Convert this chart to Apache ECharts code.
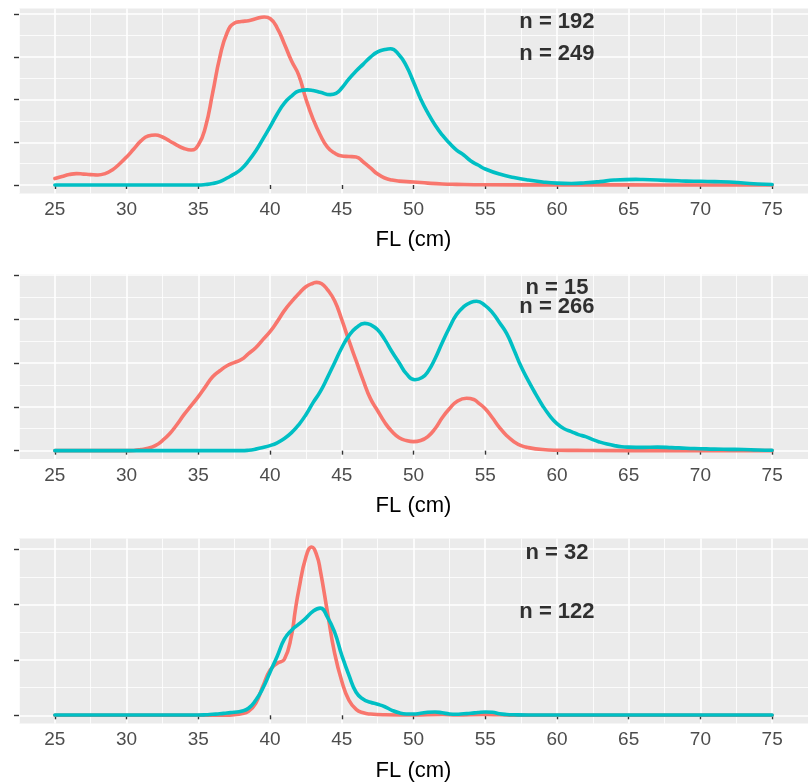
<!DOCTYPE html>
<html>
<head>
<meta charset="utf-8">
<title>FL density</title>
<script src="https://cdn.jsdelivr.net/npm/echarts@6/dist/echarts.min.js"></script>
<style>
  html, body { margin: 0; padding: 0; background: #ffffff; }
  #chart { width: 808px; height: 783px; }
</style>
</head>
<body>
<div id="chart"></div>
<script>
// Fork length (cm) breaks shared by all panels
const flBreaks = [25, 30, 35, 40, 45, 50, 55, 60, 65, 70, 75];
const flMinor = [22.5, 27.5, 32.5, 37.5, 42.5, 47.5, 52.5, 57.5, 62.5, 67.5, 72.5, 77.5];
const flLimits = [22.5, 77.5];

// Panel 1 density estimates [FL, density]
const panel1Red = [
  [25, 0.0038], [25.5, 0.0050], [26, 0.0061], [26.5, 0.0067], [27, 0.0064], [27.5, 0.0061],
  [28, 0.0059], [28.5, 0.0067], [29, 0.0088], [29.5, 0.0123], [30, 0.0164], [30.5, 0.0211],
  [31, 0.0258], [31.5, 0.0287], [32, 0.0293], [32.5, 0.0281], [33, 0.0258], [33.5, 0.0234],
  [34, 0.0214], [34.5, 0.0205], [35, 0.0234], [35.5, 0.0340], [36, 0.0539], [36.5, 0.0749],
  [37, 0.0890], [37.5, 0.0947], [38, 0.0957], [38.5, 0.0962], [39, 0.0973], [39.6, 0.0984],
  [40, 0.0975], [40.5, 0.0919], [41, 0.0826], [41.5, 0.0726], [42, 0.0644], [42.5, 0.0504],
  [43, 0.0386], [43.5, 0.0293], [44, 0.0222], [44.5, 0.0187], [45, 0.0170], [45.5, 0.0167],
  [46, 0.0164], [46.5, 0.0135], [47, 0.0100], [47.5, 0.0064], [48, 0.0041], [48.5, 0.0029],
  [49, 0.0023], [50, 0.0018], [51, 0.0011], [52, 0.0006], [53, 0.0004], [55, 0.0002],
  [60, 0.0001], [65, 0.0001], [70, 0.0000], [75, 0.0000]
];
const panel1Teal = [
  [25, 0], [30, 0], [34, 0], [35, 0.0000], [35.5, 0.0003], [36, 0.0009], [36.5, 0.0020],
  [37, 0.0041], [37.5, 0.0064], [38, 0.0094], [38.5, 0.0141], [39, 0.0199], [39.5, 0.0269],
  [40, 0.0340], [40.5, 0.0416], [41, 0.0480], [41.5, 0.0521], [42, 0.0550], [42.6, 0.0557],
  [43, 0.0553], [43.5, 0.0543], [44.2, 0.0529], [44.6, 0.0536], [45, 0.0568], [45.5, 0.0621],
  [46, 0.0667], [46.5, 0.0708], [47, 0.0749], [47.5, 0.0779], [48, 0.0793], [48.4, 0.0798],
  [49, 0.0761], [49.5, 0.0697], [50, 0.0603], [50.5, 0.0504], [51, 0.0422], [51.5, 0.0351],
  [52, 0.0293], [52.5, 0.0246], [53, 0.0205], [53.5, 0.0176], [54, 0.0141], [54.5, 0.0117],
  [55, 0.0094], [56, 0.0064], [57, 0.0044], [58, 0.0029], [59, 0.0018], [60, 0.0011],
  [61, 0.0009], [62, 0.0013], [63, 0.0020], [64, 0.0029], [65.5, 0.0033], [66, 0.0032],
  [67, 0.0029], [68, 0.0026], [69, 0.0023], [70, 0.0022], [71, 0.0020], [72, 0.0018],
  [73, 0.0012], [74, 0.0006], [75, 0.0003]
];

// Panel 2 density estimates
const panel2Red = [
  [25, 0], [30, 0], [30.5, 0.0001], [31, 0.0005], [31.5, 0.0011], [32, 0.0023], [32.5, 0.0046],
  [33, 0.0077], [33.5, 0.0118], [34, 0.0164], [34.5, 0.0205], [35, 0.0246], [35.5, 0.0292],
  [36, 0.0337], [36.5, 0.0364], [37, 0.0387], [37.5, 0.0401], [38, 0.0415], [38.5, 0.0442],
  [39, 0.0469], [39.5, 0.0506], [40, 0.0542], [40.5, 0.0588], [41, 0.0638], [41.5, 0.0679],
  [42, 0.0715], [42.5, 0.0747], [43, 0.0763], [43.25, 0.0767], [43.6, 0.0761], [44, 0.0734],
  [44.5, 0.0683], [45, 0.0597], [45.5, 0.0501], [46, 0.0410], [46.5, 0.0319], [47, 0.0237],
  [47.5, 0.0182], [48, 0.0128], [48.5, 0.0087], [49, 0.0059], [49.5, 0.0046], [50, 0.0041],
  [50.5, 0.0046], [51, 0.0064], [51.5, 0.0100], [52, 0.0150], [52.5, 0.0191], [53, 0.0223],
  [53.7, 0.0239], [54.2, 0.0233], [54.5, 0.0219], [55, 0.0191], [55.5, 0.0150], [56, 0.0105],
  [56.5, 0.0068], [57, 0.0041], [57.5, 0.0023], [58, 0.0014], [59, 0.0005], [60, 0.0002],
  [62, 0.0001], [68, 0], [75, 0]
];
const panel2Teal = [
  [25, 0], [30, 0], [35, 0], [38, 0], [38.5, 0.0002], [39, 0.0007], [39.5, 0.0014],
  [40, 0.0023], [40.5, 0.0036], [41, 0.0055], [41.5, 0.0082], [42, 0.0118], [42.5, 0.0164],
  [43, 0.0219], [43.5, 0.0269], [44, 0.0333], [44.5, 0.0401], [45, 0.0469], [45.5, 0.0524],
  [46, 0.0560], [46.6, 0.0580], [47, 0.0574], [47.5, 0.0551], [48, 0.0506], [48.5, 0.0451],
  [49, 0.0401], [49.5, 0.0351], [50.1, 0.0323], [50.6, 0.0333], [51, 0.0360], [51.5, 0.0419],
  [52, 0.0492], [52.5, 0.0560], [53, 0.0620], [53.5, 0.0656], [54, 0.0676], [54.4, 0.0681],
  [55, 0.0661], [55.5, 0.0629], [56, 0.0583], [56.5, 0.0533], [57, 0.0460], [57.5, 0.0383],
  [58, 0.0319], [58.5, 0.0260], [59, 0.0205], [59.5, 0.0159], [60, 0.0123], [60.5, 0.0100],
  [61, 0.0087], [61.5, 0.0073], [62, 0.0064], [62.5, 0.0050], [63, 0.0039], [63.5, 0.0030],
  [64, 0.0023], [64.5, 0.0018], [65, 0.0016], [66, 0.0015], [67, 0.0016], [68, 0.0014],
  [69, 0.0011], [70, 0.0009], [71, 0.0007], [72, 0.0006], [73, 0.0005], [74, 0.0003],
  [75, 0.0002]
];

// Panel 3 density estimates
const panel3Red = [
  [25, 0], [30, 0], [35, 0], [37, 0], [37.5, 0.0009], [38, 0.0027], [38.5, 0.0072],
  [39, 0.0217], [39.5, 0.0524], [40, 0.0814], [40.5, 0.0940], [41, 0.1012], [41.5, 0.1446],
  [41.75, 0.1880], [42, 0.2260], [42.5, 0.2857], [42.9, 0.3037], [43.25, 0.2893],
  [43.5, 0.2622], [44, 0.1862], [44.5, 0.1121], [45, 0.0615], [45.5, 0.0271], [46, 0.0108],
  [46.5, 0.0045], [47, 0.0022], [48, 0.0009], [50, 0.0005], [52, 0.0014], [53, 0.0005],
  [55, 0.0014], [56, 0.0009], [57, 0.0002], [60, 0], [75, 0]
];
const panel3Teal = [
  [25, 0.0005], [30, 0.0005], [35, 0.0005], [35.5, 0.0009], [36, 0.0018], [36.5, 0.0027],
  [37, 0.0042], [37.5, 0.0054], [38, 0.0072], [38.5, 0.0127], [39, 0.0271], [39.5, 0.0488],
  [40, 0.0777], [40.5, 0.1067], [41, 0.1374], [41.5, 0.1537], [42, 0.1645], [42.5, 0.1754],
  [43, 0.1880], [43.5, 0.1935], [44, 0.1772], [44.5, 0.1501], [45, 0.1085], [45.5, 0.0723],
  [46, 0.0416], [46.5, 0.0289], [47, 0.0235], [47.5, 0.0199], [48, 0.0154], [48.5, 0.0090],
  [49, 0.0045], [49.5, 0.0024], [50, 0.0022], [50.5, 0.0036], [51, 0.0054], [51.5, 0.0060],
  [52, 0.0045], [52.5, 0.0024], [53, 0.0018], [53.5, 0.0027], [54, 0.0036], [54.5, 0.0051],
  [55, 0.0060], [55.5, 0.0054], [56, 0.0027], [56.5, 0.0014], [57, 0.0009], [58, 0.0005],
  [65, 0.0005], [75, 0.0005]
];

// Density breaks and limits per panel
const densityBreaks1 = [0, 0.025, 0.05, 0.075, 0.1];
const densityMinor1 = [0.0125, 0.0375, 0.0625, 0.0875];
const densityLimits1 = [-0.0049, 0.1034];
const densityBreaks2 = [0, 0.02, 0.04, 0.06, 0.08];
const densityMinor2 = [0.01, 0.03, 0.05, 0.07];
const densityLimits2 = [-0.0038, 0.0805];
const densityBreaks3 = [0, 0.1, 0.2, 0.3];
const densityMinor3 = [0.05, 0.15, 0.25];
const densityLimits3 = [-0.015, 0.319];

// Sample size labels
const countLabels1 = ['n = 192', 'n = 249'];
const countLabels2 = ['n = 15', 'n = 266'];
const countLabels3 = ['n = 32', 'n = 122'];
// where each label sits, in FL / density units
const countAnchors1 = [[60, 0.0954], [60, 0.0767]];
const countAnchors2 = [[60, 0.0740], [60, 0.0656]];
const countAnchors3 = [[60, 0.2939], [60, 0.1868]];

const RED = '#F8766D';
const TEAL = '#00BFC4';

const panels = [
  { red: panel1Red, teal: panel1Teal, breaks: densityBreaks1, minor: densityMinor1, limits: densityLimits1, labels: countLabels1, anchors: countAnchors1, top: 8.4 },
  { red: panel2Red, teal: panel2Teal, breaks: densityBreaks2, minor: densityMinor2, limits: densityLimits2, labels: countLabels2, anchors: countAnchors2, top: 274 },
  { red: panel3Red, teal: panel3Teal, breaks: densityBreaks3, minor: densityMinor3, limits: densityLimits3, labels: countLabels3, anchors: countAnchors3, top: 538.6 }
];

const grids = [], xAxes = [], yAxes = [], series = [];
const FONT = '"Liberation Sans", Arial, Helvetica, sans-serif';

panels.forEach((p, i) => {
  grids.push({ left: 19, width: 795, top: p.top, height: 185, show: true, backgroundColor: '#EBEBEB', borderWidth: 0, containLabel: false });

  // major x axis: ticks, labels, major grid lines
  xAxes.push({
    gridIndex: i, type: 'value', min: flLimits[0], max: flLimits[1], position: 'bottom',
    axisLine: { show: false },
    axisTick: { show: true, length: 4, lineStyle: { color: '#333333', width: 1.4 }, customValues: flBreaks },
    axisLabel: { show: true, customValues: flBreaks, color: '#4D4D4D', fontSize: 19, fontFamily: FONT, margin: 7 },
    splitLine: { show: true, lineStyle: { color: '#FFFFFF', width: 1.6 } },
    name: 'FL (cm)', nameLocation: 'middle', nameGap: 36,
    nameTextStyle: { color: '#000000', fontSize: 22, fontFamily: FONT }
  });
  // minor x grid lines
  xAxes.push({
    gridIndex: i, type: 'value', min: flLimits[0], max: flLimits[1], position: 'bottom',
    axisLine: { show: false },
    axisTick: { show: false, customValues: flMinor },
    axisLabel: { show: false, customValues: flMinor },
    splitLine: { show: true, lineStyle: { color: '#FFFFFF', width: 0.8 } }
  });
  // major y axis
  yAxes.push({
    gridIndex: i, type: 'value', min: p.limits[0], max: p.limits[1], position: 'left',
    axisLine: { show: false },
    axisTick: { show: true, length: 5, lineStyle: { color: '#333333', width: 1.4 }, customValues: p.breaks },
    axisLabel: { show: false, customValues: p.breaks },
    splitLine: { show: true, lineStyle: { color: '#FFFFFF', width: 1.6 } }
  });
  // minor y grid lines
  yAxes.push({
    gridIndex: i, type: 'value', min: p.limits[0], max: p.limits[1], position: 'left',
    axisLine: { show: false },
    axisTick: { show: false, customValues: p.minor },
    axisLabel: { show: false, customValues: p.minor },
    splitLine: { show: true, lineStyle: { color: '#FFFFFF', width: 0.8 } }
  });

  const xi = i * 2, yi = i * 2;
  [[p.red, RED], [p.teal, TEAL]].forEach(([data, color]) => {
    series.push({
      type: 'line', xAxisIndex: xi, yAxisIndex: yi, data: data,
      showSymbol: false, smooth: 0.5, sampling: null,
      lineStyle: { color: color, width: 3.6, cap: 'round', join: 'round' }, itemStyle: { color: color },
      silent: true, animation: false, z: 3
    });
  });

  series.push({
    type: 'scatter', xAxisIndex: xi, yAxisIndex: yi, symbolSize: 0,
    data: p.anchors.map((a, k) => ({ value: a, name: p.labels[k] })),
    label: {
      show: true, position: 'inside', formatter: '{b}',
      color: '#000000', fontSize: 22, fontWeight: 'bold', fontFamily: FONT
    },
    silent: true, animation: false, z: 4
  });
});

const chart = echarts.init(document.getElementById('chart'), null, { renderer: 'canvas' });
chart.setOption({
  animation: false,
  backgroundColor: '#FFFFFF',
  grid: grids,
  xAxis: xAxes,
  yAxis: yAxes,
  series: series
});
</script>
</body>
</html>
